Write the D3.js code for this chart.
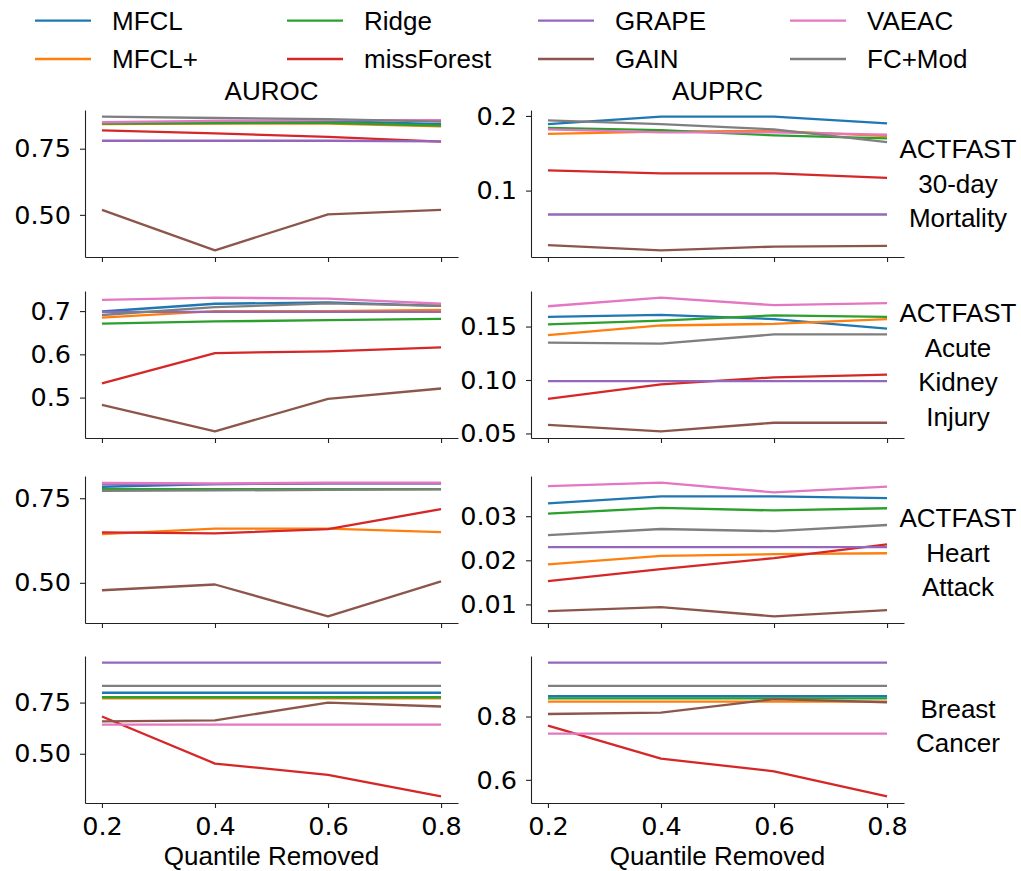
<!DOCTYPE html>
<html>
<head>
<meta charset="utf-8">
<title>Quantile removed</title>
<script src="https://d3js.org/d3.v7.min.js"></script>
<style>
  body { margin: 0; background: #fff; }
  svg { display: block; }
  .tick text { font-family: "DejaVu Sans", sans-serif; font-size: 25.5px; fill: #000; }
  .lbl { font-family: "Liberation Sans", Arial, sans-serif; font-size: 26px; fill: #000; }
</style>
</head>
<body>
<svg id="chart"></svg>
<script>
  // methods and colours (matplotlib tab10)
  const methods = ["MFCL", "MFCL+", "Ridge", "missForest", "GRAPE", "GAIN", "VAEAC", "FC+Mod"];
  const colors = ["#1f77b4", "#ff7f0e", "#2ca02c", "#d62728", "#9467bd", "#8c564b", "#e377c2", "#7f7f7f"];
  const quantiles = [0.2, 0.4, 0.6, 0.8];
  const colTitles = ["AUROC", "AUPRC"];
  const rowLabels = [
    ["ACTFAST", "30-day", "Mortality"],
    ["ACTFAST", "Acute", "Kidney", "Injury"],
    ["ACTFAST", "Heart", "Attack"],
    ["Breast", "Cancer"]
  ];

  // one row per method, same order as methods[]
  const mortAUROC = [
    [0.847, 0.850, 0.855, 0.843],
    [0.843, 0.845, 0.845, 0.834],
    [0.845, 0.847, 0.848, 0.837],
    [0.819, 0.808, 0.795, 0.777],
    [0.780, 0.780, 0.780, 0.778],
    [0.519, 0.366, 0.502, 0.519],
    [0.850, 0.855, 0.858, 0.858],
    [0.871, 0.866, 0.862, 0.852]
  ];
  const mortAUPRC = [
    [0.189, 0.199, 0.199, 0.190],
    [0.176, 0.179, 0.180, 0.173],
    [0.184, 0.181, 0.174, 0.170],
    [0.127, 0.123, 0.123, 0.117],
    [0.068, 0.068, 0.068, 0.068],
    [0.027, 0.020, 0.025, 0.026],
    [0.182, 0.178, 0.178, 0.175],
    [0.194, 0.189, 0.182, 0.165]
  ];
  const akiAUROC = [
    [0.699, 0.717, 0.720, 0.712],
    [0.685, 0.700, 0.700, 0.703],
    [0.671, 0.676, 0.679, 0.682],
    [0.533, 0.603, 0.607, 0.616],
    [0.698, 0.698, 0.698, 0.698],
    [0.483, 0.422, 0.497, 0.521],
    [0.726, 0.731, 0.729, 0.717],
    [0.691, 0.709, 0.718, 0.712]
  ];
  const akiAUPRC = [
    [0.159, 0.161, 0.157, 0.148],
    [0.142, 0.151, 0.1525, 0.157],
    [0.152, 0.1556, 0.1605, 0.159],
    [0.0824, 0.096, 0.1025, 0.105],
    [0.099, 0.099, 0.099, 0.099],
    [0.058, 0.052, 0.060, 0.060],
    [0.169, 0.177, 0.170, 0.172],
    [0.135, 0.134, 0.1426, 0.1426]
  ];
  const haAUROC = [
    [0.784, 0.792, 0.794, 0.794],
    [0.644, 0.660, 0.660, 0.650],
    [0.777, 0.777, 0.777, 0.777],
    [0.649, 0.646, 0.659, 0.718],
    [0.792, 0.792, 0.794, 0.794],
    [0.478, 0.495, 0.401, 0.504],
    [0.795, 0.794, 0.796, 0.796],
    [0.772, 0.773, 0.775, 0.776]
  ];
  const haAUPRC = [
    [0.0329, 0.0345, 0.0345, 0.0341],
    [0.0191, 0.0210, 0.0214, 0.0216],
    [0.0306, 0.0319, 0.0313, 0.0318],
    [0.0153, 0.0180, 0.0205, 0.0236],
    [0.0230, 0.0230, 0.0230, 0.0230],
    [0.0085, 0.0094, 0.0073, 0.0087],
    [0.0368, 0.0376, 0.0354, 0.0367],
    [0.0257, 0.0271, 0.0266, 0.0280]
  ];
  const bcAUROC = [
    [0.798, 0.798, 0.798, 0.798],
    [0.771, 0.771, 0.771, 0.771],
    [0.776, 0.776, 0.776, 0.776],
    [0.682, 0.452, 0.397, 0.292],
    [0.945, 0.945, 0.945, 0.945],
    [0.658, 0.663, 0.750, 0.731],
    [0.642, 0.642, 0.642, 0.642],
    [0.832, 0.832, 0.832, 0.832]
  ];
  const bcAUPRC = [
    [0.864, 0.864, 0.864, 0.864],
    [0.847, 0.847, 0.847, 0.847],
    [0.857, 0.857, 0.857, 0.857],
    [0.771, 0.667, 0.627, 0.548],
    [0.970, 0.970, 0.970, 0.970],
    [0.808, 0.8125, 0.855, 0.845],
    [0.746, 0.746, 0.746, 0.746],
    [0.897, 0.897, 0.897, 0.897]
  ];

  const panels = [
    [mortAUROC, mortAUPRC],
    [akiAUROC, akiAUPRC],
    [haAUROC, haAUPRC],
    [bcAUROC, bcAUPRC]
  ];
  const yTicks = [
    [[0.5, 0.75], [0.1, 0.2]],
    [[0.5, 0.6, 0.7], [0.05, 0.10, 0.15]],
    [[0.5, 0.75], [0.01, 0.02, 0.03]],
    [[0.5, 0.75], [0.6, 0.8]]
  ];
  const yFormats = [[".2f", ".1f"], [".1f", ".2f"], [".2f", ".2f"], [".2f", ".1f"]];

  // layout
  const width = 1021, height = 871;
  const colX = [85, 531];
  const rowTop = [110, 291, 476, 656];
  const axW = 373, axH = 147;
  const rowLabelShift = [0, 0, 3, -4];

  const svg = d3.select("#chart").attr("width", width).attr("height", height);
  svg.append("rect").attr("width", width).attr("height", height).attr("fill", "#fff");

  // x: matplotlib-like 5% margin
  const x = d3.scaleLinear().domain([0.17, 0.83]).range([0, axW]);

  panels.forEach((row, r) => {
    row.forEach((data, c) => {
      const g = svg.append("g").attr("transform", `translate(${colX[c]},${rowTop[r]})`);
      const all = data.flat();
      const lo = d3.min(all), hi = d3.max(all), pad = (hi - lo) * 0.05;
      const y = d3.scaleLinear().domain([lo - pad, hi + pad]).range([axH, 0]);

      const line = d3.line().x((d, i) => x(quantiles[i])).y(d => y(d));

      data.forEach((vals, m) => {
        g.append("path")
          .attr("d", line(vals))
          .attr("fill", "none")
          .attr("stroke", colors[m])
          .attr("stroke-width", 2.3)
          .attr("stroke-linejoin", "round");
      });

      const yAxis = g.append("g")
        .call(d3.axisLeft(y).tickValues(yTicks[r][c]).tickFormat(d3.format(yFormats[r][c]))
          .tickSize(5).tickSizeOuter(0).tickPadding(9));

      const xAxis = g.append("g").attr("transform", `translate(0,${axH})`)
        .call(d3.axisBottom(x).tickValues(quantiles)
          .tickFormat(r === 3 ? d3.format(".1f") : () => "")
          .tickSize(5).tickSizeOuter(0).tickPadding(9));

      [yAxis, xAxis].forEach(a => {
        a.select(".domain").attr("stroke", "#222").attr("stroke-width", 1.1);
        a.selectAll(".tick line").attr("stroke", "#222").attr("stroke-width", 1.1);
      });

      if (r === 0) {
        g.append("text").attr("class", "lbl")
          .attr("x", axW / 2).attr("y", -10)
          .attr("text-anchor", "middle")
          .text(colTitles[c]);
      }
      if (r === 3) {
        g.append("text").attr("class", "lbl")
          .attr("x", axW / 2).attr("y", axH + 62)
          .attr("text-anchor", "middle")
          .text("Quantile Removed");
      }
    });

    // row label on the right
    const lines = rowLabels[r];
    const cy = rowTop[r] + axH / 2 + rowLabelShift[r];
    lines.forEach((t, i) => {
      svg.append("text").attr("class", "lbl")
        .attr("x", 958).attr("y", cy + 9.3 + (i - (lines.length - 1) / 2) * 34.5)
        .attr("text-anchor", "middle")
        .text(t);
    });
  });

  // legend, 4 columns x 2 rows, filled column by column
  const legX = [35, 287, 538, 790];
  const legY = [20.7, 59];
  methods.forEach((name, i) => {
    const cx = legX[Math.floor(i / 2)], ly = legY[i % 2];
    svg.append("line")
      .attr("x1", cx).attr("x2", cx + 56).attr("y1", ly).attr("y2", ly)
      .attr("stroke", colors[i]).attr("stroke-width", 2.3);
    svg.append("text").attr("class", "lbl")
      .attr("x", cx + 77).attr("y", ly + 9.3)
      .text(name);
  });
</script>
</body>
</html>
